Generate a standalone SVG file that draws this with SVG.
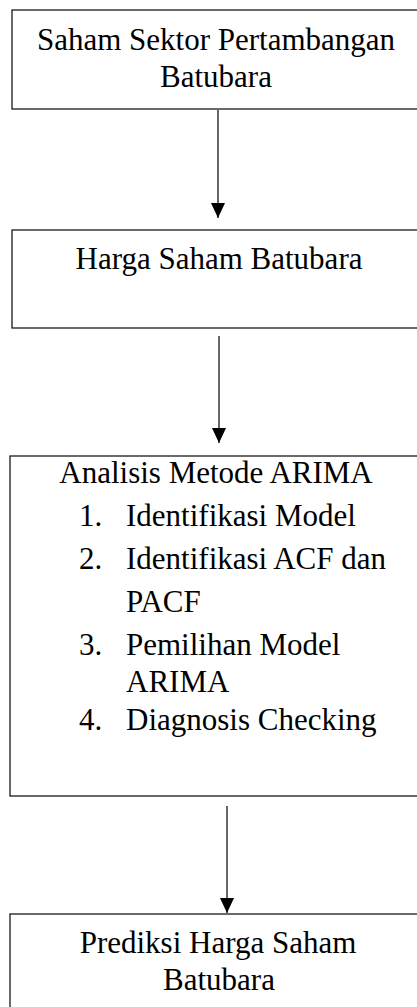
<svg xmlns="http://www.w3.org/2000/svg" width="417" height="1007" viewBox="0 0 417 1007">
<style>
.box{fill:#fff;stroke:#1a1a1a;stroke-width:1.3}
.t{font-family:"Liberation Serif","Times New Roman",serif;font-size:31px;fill:#000}
.c{text-anchor:middle}
.conn{stroke:#000;stroke-width:1.2;fill:none}
</style>
<defs>
<marker id="ah" markerUnits="userSpaceOnUse" viewBox="0 0 15 14" markerWidth="15" markerHeight="14" refX="15" refY="7" orient="auto">
<path d="M0,0 L15,7 L0,14 z" fill="#000"/>
</marker>
</defs>
<rect width="417" height="1007" fill="#fff"/>
<g id="node1">
<rect class="box" x="12" y="10" width="420" height="99"/>
<text class="t c" x="216" y="50">Saham Sektor Pertambangan</text>
<text class="t c" x="216" y="87">Batubara</text>
</g>
<g id="node2">
<rect class="box" x="12" y="230" width="420" height="98"/>
<text class="t c" x="219" y="269">Harga Saham Batubara</text>
</g>
<g id="node3">
<rect class="box" x="10" y="456" width="420" height="340"/>
<text class="t c" x="216" y="483">Analisis Metode ARIMA</text>
<text class="t" x="79" y="526">1.</text>
<text class="t" x="126" y="526">Identifikasi Model</text>
<text class="t" x="79" y="569">2.</text>
<text class="t" x="126" y="569">Identifikasi ACF dan</text>
<text class="t" x="126" y="612">PACF</text>
<text class="t" x="79" y="655">3.</text>
<text class="t" x="126" y="655">Pemilihan Model</text>
<text class="t" x="126" y="692">ARIMA</text>
<text class="t" x="79" y="730">4.</text>
<text class="t" x="126" y="730">Diagnosis Checking</text>
</g>
<g id="node4">
<rect class="box" x="10" y="914" width="420" height="120"/>
<text class="t c" x="218" y="953">Prediksi Harga Saham</text>
<text class="t c" x="219" y="990">Batubara</text>
</g>
<g id="connectors">
<line class="conn" x1="218" y1="110" x2="218" y2="218" marker-end="url(#ah)"/>
<line class="conn" x1="219" y1="336" x2="219" y2="443" marker-end="url(#ah)"/>
<line class="conn" x1="227" y1="806" x2="227" y2="913" marker-end="url(#ah)"/>
</g>
</svg>
